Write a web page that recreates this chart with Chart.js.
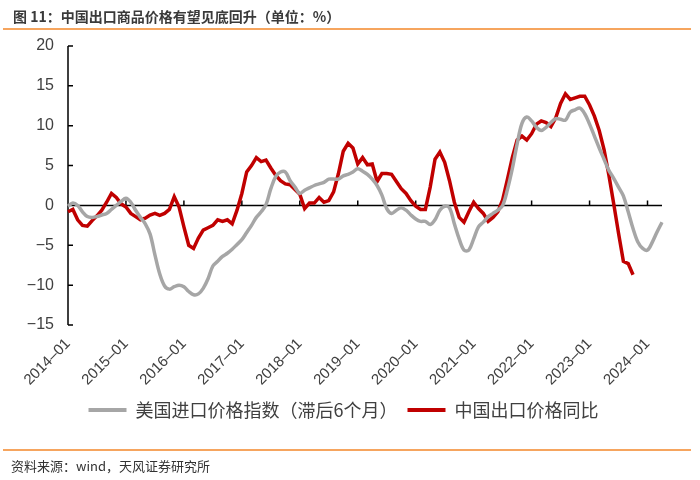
<!DOCTYPE html>
<html>
<head>
<meta charset="utf-8">
<script src="https://cdn.jsdelivr.net/npm/chart.js@4.4.1/dist/chart.umd.min.js"></script>
<style>
  html, body { margin: 0; padding: 0; background: #fff; }
  #wrap { position: relative; width: 700px; height: 480px; overflow: hidden; }
  #title { position: absolute; left: 13px; top: 6px; line-height: 18px; font: bold 14px "Noto Sans CJK SC", sans-serif; color: #3a3a3a; white-space: nowrap; }
  .rule { position: absolute; left: 3px; width: 688px; height: 2px; background: #F6A55E; }
  #source { position: absolute; left: 11px; top: 456px; line-height: 18px; font: 13px "Noto Sans CJK SC", sans-serif; color: #333; white-space: nowrap; }
  canvas { position: absolute; left: 0; top: 0; }
</style>
</head>
<body>
<div id="wrap">
  <canvas id="chart" width="700" height="480"></canvas>
  <div id="title">图 11：中国出口商品价格有望见底回升（单位：%）</div>
  <div class="rule" style="top:28px"></div>
  <div class="rule" style="top:449px"></div>
  <div id="source">资料来源：wind，天风证券研究所</div>
</div>
<script>
// 月度类目 2014-01 ~ 2024-04
const months = [];
for (let yr = 2014; yr <= 2024; yr++) {
    for (let m = 1; m <= 12; m++) {
        if (yr === 2024 && m > 4) break;
        months.push(yr + '-' + String(m).padStart(2, '0'));
    }
}

// 美国进口价格指数（滞后6个月）
const usImport = [
    -0.1, 0.3, 0.0, -0.8, -1.4, -1.5, -1.4, -1.2, -1.0, -0.5, 0.0, 0.5,
    0.9, 0.4, -0.6, -1.5, -2.3, -3.6, -6.2, -8.6, -10.1, -10.5, -10.2, -10.0,
    -10.2, -10.8, -11.2, -11.1, -10.4, -9.2, -7.6, -7.0, -6.4, -6.0, -5.5, -4.9,
    -4.3, -3.4, -2.5, -1.5, -0.8, 0.1, 2.1, 3.6, 4.2, 4.2, 3.1, 2.3,
    1.5, 1.9, 2.2, 2.5, 2.7, 2.9, 3.3, 3.3, 3.3, 3.7, 3.9, 4.2,
    4.6, 4.3, 3.9, 3.3, 2.5, 1.3, -0.4, -1.0, -0.6, -0.3, -0.6, -1.2,
    -1.7, -2.0, -2.0, -2.4, -1.8, -0.6, -0.1, -0.3, -2.3, -4.2, -5.6, -5.6,
    -4.2, -2.7, -2.1, -1.4, -1.0, -0.6, 0.0, 2.0, 4.6, 7.7, 10.3, 11.1,
    10.6, 9.8, 9.4, 9.8, 10.4, 10.9, 10.8, 10.7, 11.7, 12.0, 12.2, 11.5,
    10.2, 8.7, 7.2, 5.8, 4.4, 3.4, 2.3, 1.2, -0.8, -2.9, -4.6, -5.4,
    -5.6, -4.6, -3.3, -2.1
];

// 中国出口价格同比
const chinaExport = [
    -0.8, -0.5, -1.8, -2.5, -2.6, -1.9, -1.3, -0.6, 0.4, 1.5, 1.0, 0.2,
    -0.2, -1.0, -1.4, -1.8, -1.6, -1.2, -1.0, -1.25, -1.0, -0.5, 1.1, -0.2,
    -2.7, -5.0, -5.4, -4.1, -3.1, -2.8, -2.5, -1.8, -2.0, -1.8, -2.3, -0.6,
    1.5, 4.2, 5.0, 6.0, 5.5, 5.7, 4.7, 3.8, 3.1, 2.7, 2.6, 2.0,
    1.4, -0.4, 0.3, 0.3, 1.0, 0.4, 0.6, 1.7, 4.0, 6.8, 7.8, 7.2,
    5.2, 6.0, 5.1, 5.2, 3.0, 4.0, 4.0, 3.9, 3.0, 2.1, 1.5, 0.6,
    -0.1, -0.5, -0.5, 2.3, 5.8, 6.7, 5.4, 3.1, 0.4, -1.5, -2.1, -0.8,
    0.4, -0.4, -1.0, -2.0, -1.5, -0.8, 0.7, 3.3, 6.0, 8.2, 8.7, 8.2,
    9.0, 10.2, 10.6, 10.4, 9.9, 11.0, 12.8, 14.0, 13.3, 13.5, 13.7, 13.7,
    12.6, 11.2, 9.4, 7.0, 3.8, 0.2, -3.5, -7.0, -7.3, -8.7
];

const yTicks = [-15, -10, -5, 0, 5, 10, 15, 20];

const tickColor = '#404040';
const numFont = 'Liberation Sans, Arial, sans-serif';

// 零轴、纵轴和刻度线
const axisMarks = {
    id: 'axisMarks',
    beforeDatasetsDraw(chart) {
        const { ctx, chartArea, scales: { x, y } } = chart;
        const y0 = y.getPixelForValue(0);
        ctx.save();
        ctx.strokeStyle = '#000';
        ctx.lineWidth = 1.5;
        ctx.beginPath();
        ctx.moveTo(chartArea.left, y0);
        ctx.lineTo(chartArea.right, y0);
        ctx.moveTo(chartArea.left, y.getPixelForValue(yTicks[yTicks.length - 1]));
        ctx.lineTo(chartArea.left, y.getPixelForValue(yTicks[0]));
        yTicks.forEach(function (v) {
            const py = y.getPixelForValue(v);
            ctx.moveTo(chartArea.left, py);
            ctx.lineTo(chartArea.left + 5, py);
        });
        months.forEach(function (m, i) {
            if (m.endsWith('-01') && i > 0) {
                const px = x.getPixelForValue(i);
                ctx.moveTo(px, y0);
                ctx.lineTo(px, y0 - 5);
            }
        });
        ctx.stroke();
        ctx.restore();
    }
};

const ctx = document.getElementById('chart').getContext('2d');
new Chart(ctx, {
    type: 'line',
    data: {
        labels: months,
        datasets: [{
            label: '美国进口价格指数（滞后6个月）',
            data: usImport,
            borderColor: '#A6A6A6',
            backgroundColor: '#A6A6A6',
            borderWidth: 3.5,
            pointRadius: 0,
            tension: 0.35
        }, {
            label: '中国出口价格同比',
            data: chinaExport,
            borderColor: '#C00000',
            backgroundColor: '#C00000',
            borderWidth: 3.5,
            pointRadius: 0,
            tension: 0
        }]
    },
    options: {
        responsive: false,
        animation: false,
        layout: { padding: { left: 25, right: 38, top: 46, bottom: 51 } },
        plugins: {
            tooltip: { enabled: false },
            legend: {
                position: 'bottom',
                labels: {
                    boxWidth: 38,
                    boxHeight: 4,
                    padding: 10,
                    color: tickColor,
                    font: { family: '"Noto Sans CJK SC", sans-serif', size: 18 },
                    generateLabels: function (chart) {
                        return chart.data.datasets.map(function (d, i) {
                            return {
                                text: d.label,
                                fillStyle: d.borderColor,
                                strokeStyle: d.borderColor,
                                lineWidth: 0,
                                hidden: false,
                                datasetIndex: i,
                                fontColor: tickColor
                            };
                        });
                    }
                }
            }
        },
        scales: {
            x: {
                grid: { display: false, drawTicks: false },
                border: { display: false },
                ticks: {
                    autoSkip: false,
                    minRotation: 45,
                    maxRotation: 45,
                    padding: 10,
                    color: tickColor,
                    font: { family: numFont, size: 15 },
                    callback: function (v, i) {
                        const l = months[i];
                        return l.endsWith('-01') ? l.replace('-', '–') : null;
                    }
                },
                afterFit: function (s) { s.height = 66; }
            },
            y: {
                min: -15,
                max: 20,
                grid: { display: false, drawTicks: false },
                border: { display: false },
                ticks: {
                    stepSize: 5,
                    padding: 14,
                    color: tickColor,
                    font: { family: numFont, size: 16 },
                    callback: function (v) { return v < 0 ? '−' + Math.abs(v) : v; }
                },
                afterFit: function (s) { s.width = 43; }
            }
        }
    },
    plugins: [axisMarks]
});
</script>
</body>
</html>
